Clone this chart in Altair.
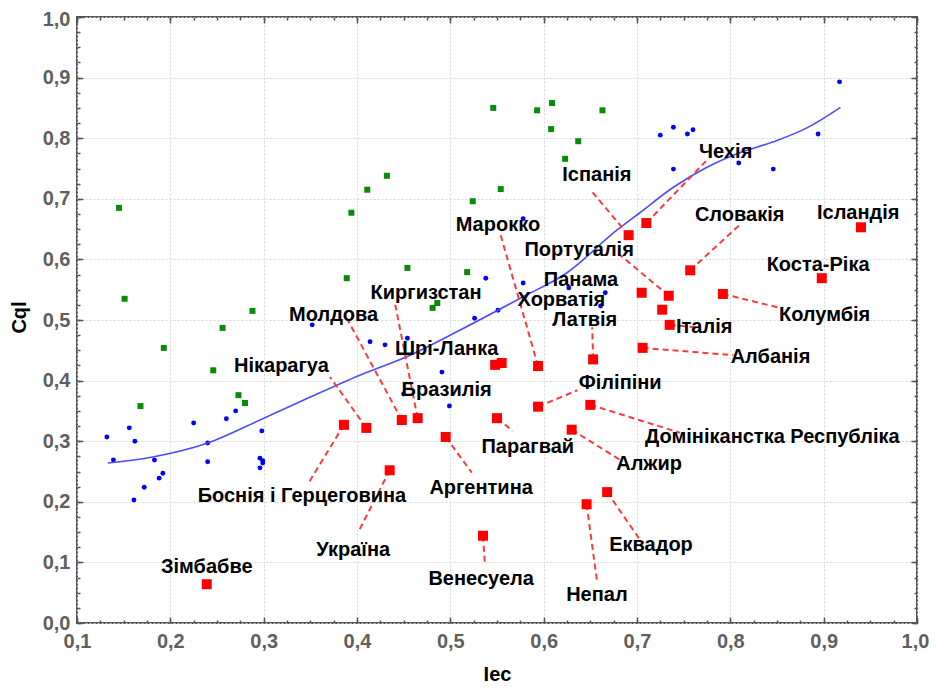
import altair as alt
import pandas as pd

# ---------------- data ----------------
green_x = [0.145, 0.394, 0.546, 0.593, 0.609, 0.663, 0.608, 0.637, 0.623, 0.432, 0.411, 0.554, 0.524,
           0.151, 0.288, 0.256, 0.193, 0.246, 0.168, 0.273, 0.280, 0.389, 0.454, 0.518, 0.481, 0.486]
green_y = [0.685, 0.677, 0.850, 0.846, 0.858, 0.846, 0.815, 0.795, 0.766, 0.738, 0.715, 0.716, 0.696,
           0.535, 0.515, 0.487, 0.454, 0.417, 0.358, 0.376, 0.363, 0.569, 0.586, 0.579, 0.520, 0.528]

blue_x = [0.917, 0.739, 0.760, 0.754, 0.894, 0.739, 0.809, 0.846, 0.725, 0.578,
          0.132, 0.156, 0.162, 0.139, 0.183, 0.225, 0.240, 0.260, 0.270, 0.298, 0.240, 0.296, 0.299, 0.352,
          0.161, 0.172, 0.188, 0.192, 0.296, 0.299,
          0.538, 0.578, 0.627, 0.666, 0.661, 0.551, 0.526, 0.414, 0.430, 0.454, 0.491, 0.450, 0.499]
blue_y = [0.893, 0.818, 0.814, 0.807, 0.807, 0.749, 0.759, 0.749, 0.805, 0.667,
          0.307, 0.322, 0.300, 0.269, 0.269, 0.330, 0.297, 0.337, 0.350, 0.317, 0.266, 0.272, 0.268, 0.492,
          0.203, 0.224, 0.239, 0.247, 0.256, 0.264,
          0.569, 0.561, 0.553, 0.545, 0.523, 0.516, 0.503, 0.464, 0.459, 0.470, 0.414, 0.378, 0.358]

curve_x = [0.133, 0.181, 0.240, 0.296, 0.350, 0.403, 0.457, 0.510, 0.575, 0.625, 0.679, 0.703,
           0.739, 0.775, 0.810, 0.846, 0.882, 0.918]
curve_y = [0.264, 0.274, 0.297, 0.335, 0.373, 0.409, 0.442, 0.483, 0.536, 0.578, 0.649, 0.677,
           0.719, 0.752, 0.776, 0.794, 0.817, 0.851]

countries = ["Зімбабве", "Боснія і Герцеговина", "Нікарагуа", "Молдова", "Киргизстан", "Україна",
             "Аргентина", "Шрі-Ланка", "Бразилія", "Марокко", "Парагвай", "Венесуела", "Філіпіни",
             "Латвія", "Домініканстка Республіка", "Алжир", "Непал", "Еквадор", "Іспанія", "Чехія",
             "Словакія", "Ісландія", "Коста-Ріка", "Португалія", "Колумбія", "Італія", "Албанія",
             "Панама", "Хорватія"]
country_x = [0.239, 0.386, 0.410, 0.448, 0.465, 0.435, 0.495, 0.548, 0.555, 0.594, 0.550, 0.535, 0.594,
             0.653, 0.650, 0.630, 0.646, 0.668, 0.691, 0.710, 0.757, 0.940, 0.898, 0.734, 0.792, 0.735,
             0.706, 0.705, 0.727]
country_y = [0.064, 0.327, 0.322, 0.335, 0.338, 0.252, 0.307, 0.426, 0.429, 0.424, 0.338, 0.144, 0.357,
             0.435, 0.360, 0.319, 0.196, 0.216, 0.640, 0.660, 0.582, 0.653, 0.569, 0.540, 0.543, 0.492,
             0.454, 0.545, 0.517]
label_x = [0.239, 0.341, 0.319, 0.375, 0.474, 0.396, 0.533, 0.496, 0.496, 0.551, 0.583, 0.533, 0.682,
           0.644, 0.845, 0.713, 0.657, 0.715, 0.657, 0.795, 0.810, 0.937, 0.894, 0.638, 0.901, 0.772,
           0.843, 0.640, 0.619]
label_y = [0.092, 0.210, 0.424, 0.508, 0.545, 0.120, 0.223, 0.452, 0.384, 0.657, 0.290, 0.073, 0.396,
           0.500, 0.307, 0.262, 0.046, 0.129, 0.739, 0.777, 0.673, 0.677, 0.591, 0.615, 0.508, 0.488,
           0.439, 0.566, 0.533]
# end of the dashed leader line (near the label); None = no leader line
leader_x = [None, 0.348, 0.371, 0.389, 0.441, 0.401, 0.523, None, None, 0.553, 0.567, 0.537, 0.636,
            0.652, 0.746, 0.682, 0.657, 0.702, 0.650, 0.775, 0.810, None, None, 0.682, 0.853, 0.764,
            0.803, None, None]
leader_y = [None, 0.231, 0.406, 0.503, 0.525, 0.149, 0.248, None, None, 0.645, 0.317, 0.099, 0.384,
            0.488, 0.314, 0.269, 0.071, 0.140, 0.715, 0.764, 0.657, None, None, 0.607, 0.520, 0.488,
            0.442, None, None]

x_major = [0.1, 0.2, 0.3, 0.4, 0.5, 0.6, 0.7, 0.8, 0.9, 1.0]
y_major = [0.0, 0.1, 0.2, 0.3, 0.4, 0.5, 0.6, 0.7, 0.8, 0.9, 1.0]
x_minor = [round(0.1 + 0.025 * i, 3) for i in range(37)]
y_minor = [round(0.025 * i, 3) for i in range(41)]

# ---------------- frames ----------------
green_df = pd.DataFrame({"x": green_x, "y": green_y})
blue_df = pd.DataFrame({"x": blue_x, "y": blue_y})
curve_df = pd.DataFrame({"x": curve_x, "y": curve_y, "o": list(range(len(curve_x)))})
red_df = pd.DataFrame({"country": countries, "x": country_x, "y": country_y,
                       "lx": label_x, "ly": label_y, "ex": leader_x, "ey": leader_y})
lead_df = red_df.dropna(subset=["ex", "ey"])

W, H = 840, 606
FONT = "Liberation Sans"
xs = alt.Scale(domain=[0.1, 1.0], nice=False, zero=False)
ys = alt.Scale(domain=[0.0, 1.0], nice=False, zero=False)
lab = "replace(format(datum.value, '.1f'), '.', ',')"

x_main = alt.Axis(orient="bottom", values=x_major, labelExpr=lab, labelFont=FONT, labelFontSize=20,
                  labelFontWeight="bold", labelColor="#5f5f5f", labelPadding=8, labelFlush=False,
                  labelOverlap=False,
                  labelOffset={"condition": {"test": "datum.value > 0.99", "value": -2}, "value": 0},
                  ticks=False, domain=False, grid=True, gridColor="#d6d6d6",
                  gridDash=[2, 2], gridWidth=1, title="Iec", titleFont=FONT, titleFontSize=20,
                  titleFontWeight="bold", titleColor="black", titleX=W / 2, titleY=51,
                  titleAlign="center", titleBaseline="middle")
y_main = alt.Axis(orient="left", values=y_major, labelExpr=lab, labelFont=FONT, labelFontSize=20,
                  labelFontWeight="bold", labelColor="#5f5f5f", labelPadding=7, labelFlush=False,
                  labelOverlap=False,
                  labelOffset={"condition": {"test": "datum.value > 0.99", "value": 2}, "value": 0},
                  ticks=False, domain=False, grid=True, gridColor="#d6d6d6",
                  gridDash=[2, 2], gridWidth=1, title="Cql", titleFont=FONT, titleFontSize=20,
                  titleFontWeight="bold", titleColor="black", titleX=-58, titleY=H / 2 - 3,
                  titleAngle=270, titleAlign="center", titleBaseline="middle")


def tick_axis(orient, offset, values, size):
    return alt.Axis(orient=orient, offset=offset, values=values, labels=False, domain=False,
                    grid=False, ticks=True, tickSize=size, tickColor="#555555", tickWidth=1.5,
                    title=None)


def tick_layer(xo, xoff, yo, yoff, xv, yv, size):
    return alt.Chart(green_df).mark_point(opacity=0).encode(
        x=alt.X("x:Q", scale=xs, axis=tick_axis(xo, xoff, xv, size)),
        y=alt.Y("y:Q", scale=ys, axis=tick_axis(yo, yoff, yv, size)),
    )


grid_layer = alt.Chart(red_df).mark_point(opacity=0).encode(
    x=alt.X("x:Q", scale=xs, axis=x_main),
    y=alt.Y("y:Q", scale=ys, axis=y_main),
)

# inward ticks: opposite-orient axes shifted across the plot
t1 = tick_layer("top", -H, "right", -W, x_major, y_major, 6)     # bottom & left edges, major
t2 = tick_layer("bottom", -H, "left", -W, x_major, y_major, 6)   # top & right edges, major
t3 = tick_layer("top", -H, "right", -W, x_minor, y_minor, 3)     # minor
t4 = tick_layer("bottom", -H, "left", -W, x_minor, y_minor, 3)

green = alt.Chart(green_df).mark_square(size=36, color="#0a8a0a", opacity=1).encode(
    x=alt.X("x:Q", scale=xs, axis=None), y=alt.Y("y:Q", scale=ys, axis=None))
blue = alt.Chart(blue_df).mark_circle(size=24, color="#0000ff", opacity=1).encode(
    x=alt.X("x:Q", scale=xs, axis=None), y=alt.Y("y:Q", scale=ys, axis=None))
curve = alt.Chart(curve_df).mark_line(color="#4d4dff", strokeWidth=1.6, interpolate="monotone").encode(
    x=alt.X("x:Q", scale=xs, axis=None), y=alt.Y("y:Q", scale=ys, axis=None), order="o:Q")
leaders = alt.Chart(lead_df).mark_rule(color="#ff3a3a", strokeDash=[6, 4], strokeWidth=2).encode(
    x=alt.X("x:Q", scale=xs, axis=None), y=alt.Y("y:Q", scale=ys, axis=None), x2="ex:Q", y2="ey:Q")
red = alt.Chart(red_df).mark_square(size=100, color="#ff0000", opacity=1).encode(
    x=alt.X("x:Q", scale=xs, axis=None), y=alt.Y("y:Q", scale=ys, axis=None))
labels = alt.Chart(red_df).mark_text(font=FONT, fontSize=20, fontWeight="bold", color="black",
                                     align="center", baseline="middle").encode(
    x=alt.X("lx:Q", scale=xs, axis=None), y=alt.Y("ly:Q", scale=ys, axis=None), text="country:N")

chart = alt.layer(grid_layer, t1, t2, t3, t4, green, blue, curve, leaders, red, labels).resolve_axis(
    x="independent", y="independent"
).properties(
    width=W, height=H, autosize=alt.AutoSizeParams(type="none"),
    padding={"left": 69, "top": 9, "right": 12, "bottom": 60},
).configure_view(stroke="#555555", strokeWidth=2)

chart.save("out.html", embed_options={"renderer": "svg", "actions": False})
